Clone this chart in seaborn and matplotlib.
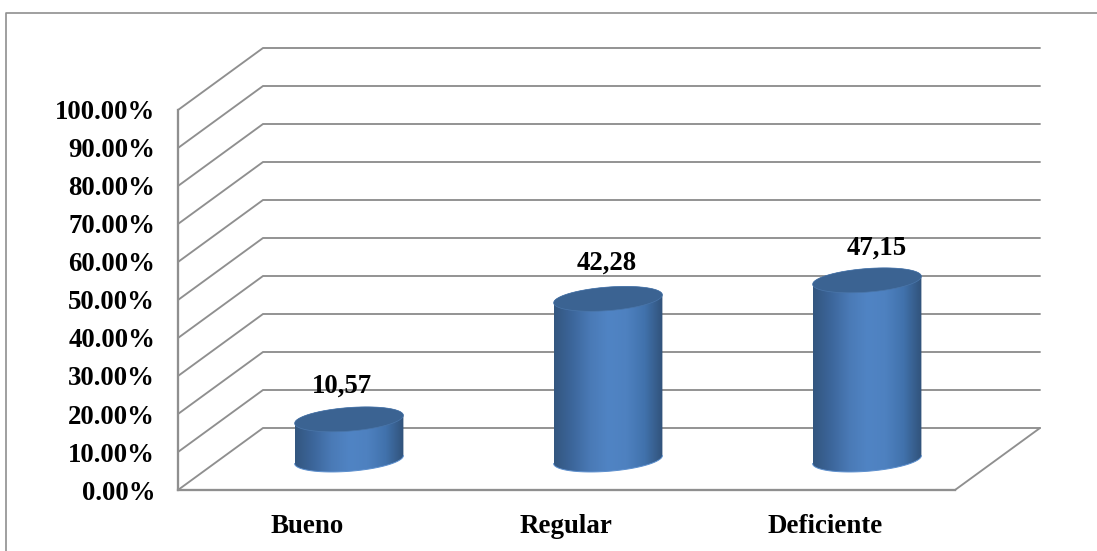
import numpy as np
import matplotlib
matplotlib.use("Agg")
import matplotlib.pyplot as plt
from matplotlib.colors import LinearSegmentedColormap
from matplotlib.lines import Line2D
from matplotlib.patches import Polygon
import seaborn as sns

categories = ["Bueno", "Regular", "Deficiente"]
values = [10.57, 42.28, 47.15]
value_labels = ["10,57", "42,28", "47,15"]
y_ticks = [0, 10, 20, 30, 40, 50, 60, 70, 80, 90, 100]
y_tick_labels = [f"{t:.2f}%" for t in y_ticks]

W, H = 1097, 551
GRID = "#8f8f8f"
LW = 1.35
FONT_SIZE = 19.3

sns.set_theme(style="white")
plt.rcParams["font.family"] = ["Liberation Serif", "DejaVu Sans"]
plt.rcParams["font.weight"] = "bold"

fig = plt.figure(figsize=(W / 100, H / 100), dpi=100, facecolor="white")

# Outer chart frame: only its left and top edges fall inside the canvas
fig.add_artist(Line2D([5.5 / W, 5.5 / W, 1], [0, 1 - 12.5 / H, 1 - 12.5 / H],
                      color=GRID, lw=1.2, transform=fig.transFigure))

# Front plane of the 3D box carries the value and category axes
px_left, px_right, px_floor, px_top = 178, 955, 490, 110
plot_w, plot_h = px_right - px_left, px_floor - px_top
ax = fig.add_axes([px_left / W, 1 - px_floor / H, plot_w / W, plot_h / H])
ax.set_xlim(-0.5, 2.5)
ax.set_ylim(0, 100)
ax.patch.set_alpha(0)

x_per_px = 3 / plot_w
y_per_px = 100 / plot_h
depth_x = 85 * x_per_px
depth_y = 62 * y_per_px

# Side wall and back wall gridlines, one folded line per tick
for t in y_ticks:
    ax.plot([-0.5, -0.5 + depth_x, 2.5 + depth_x], [t, t + depth_y, t + depth_y],
            color=GRID, lw=LW, clip_on=False, solid_joinstyle="miter", zorder=1)
# Right edge of the floor
ax.plot([2.5, 2.5 + depth_x], [0, depth_y], color=GRID, lw=LW, clip_on=False, zorder=1)

sns.despine(ax=ax)
for side in ("left", "bottom"):
    ax.spines[side].set_color(GRID)
    ax.spines[side].set_linewidth(LW + 0.3)
ax.set_yticks(y_ticks, y_tick_labels)
ax.set_xticks(range(len(categories)), categories)
ax.tick_params(axis="y", length=0, pad=16.5, labelsize=FONT_SIZE, colors="black")
ax.tick_params(axis="x", length=0, pad=17, labelsize=19.4, colors="black")
ax.grid(False)

# Cylinders sit mid-way through the depth of the box; their axes reach a little
# below zero so the rounded bases are not cut off
y_floor = -10
base_px = px_floor - 30.5 - y_floor * plot_h / 100
ax_bars = fig.add_axes([(px_left + 41.5) / W, 1 - base_px / H,
                        plot_w / W, (base_px - (px_top - 30.5)) / H])
ax_bars.patch.set_alpha(0)
sns.barplot(x=categories, y=values, ax=ax_bars, width=0.42, color="#4f81bd",
            saturation=1, linewidth=0, legend=False)

side_cmap = LinearSegmentedColormap.from_list(
    "cyl", ["#33567f", "#3c669b", "#4a7ab6", "#5084c4", "#4e81c0", "#4172ac", "#31527a"])
shade = np.linspace(0, 1, 256)[None, :]

ell_b = 11.8 * y_per_px
ell_k = 4.0 * y_per_px


def rim(cx, cy, half, start, stop):
    """Points along a tilted ellipse between two angles."""
    t = np.linspace(start, stop, 80)
    return np.column_stack([cx + half * np.cos(t), cy + ell_b * np.sin(t) + ell_k * np.cos(t)])


for bar in list(ax_bars.patches):
    half = bar.get_width() / 2
    cx = bar.get_x() + half
    top = bar.get_height()
    upper = rim(cx, top, half, np.pi, 0)
    lower = rim(cx, 0, half, 0, -np.pi)
    body = Polygon(np.vstack([upper, lower]), closed=True, transform=ax_bars.transData,
                   facecolor="none", edgecolor="none")
    ax_bars.add_patch(body)
    bar.set_clip_path(body)
    img = ax_bars.imshow(shade, cmap=side_cmap, aspect="auto", zorder=3,
                         extent=[cx - half, cx + half, y_floor, top + 5],
                         interpolation="bilinear")
    img.set_clip_path(body)
    # Lighter rim along the bottom edge and the flat darker cap on top
    ax_bars.plot(lower[:, 0], lower[:, 1], color="#5c8fce", lw=0.7, zorder=4)
    ax_bars.add_patch(Polygon(rim(cx, top, half, 0, 2 * np.pi), closed=True, zorder=5,
                              facecolor="#3b6392", edgecolor="#4a76aa", lw=0.5))

label_shift = [(-7, 33), (-1, 36), (10, 32)]
for i, (v, text, (dx, dy)) in enumerate(zip(values, value_labels, label_shift)):
    ax_bars.annotate(text, (i, v), xytext=(dx * 0.72, dy * 0.72), textcoords="offset points",
                     ha="center", va="center", fontsize=FONT_SIZE, fontweight="bold",
                     color="black", zorder=6, annotation_clip=False)

ax_bars.set_xlim(-0.5, 2.5)
ax_bars.set_ylim(y_floor, 100)
ax_bars.axis("off")

fig.savefig("out.png", dpi=100)
